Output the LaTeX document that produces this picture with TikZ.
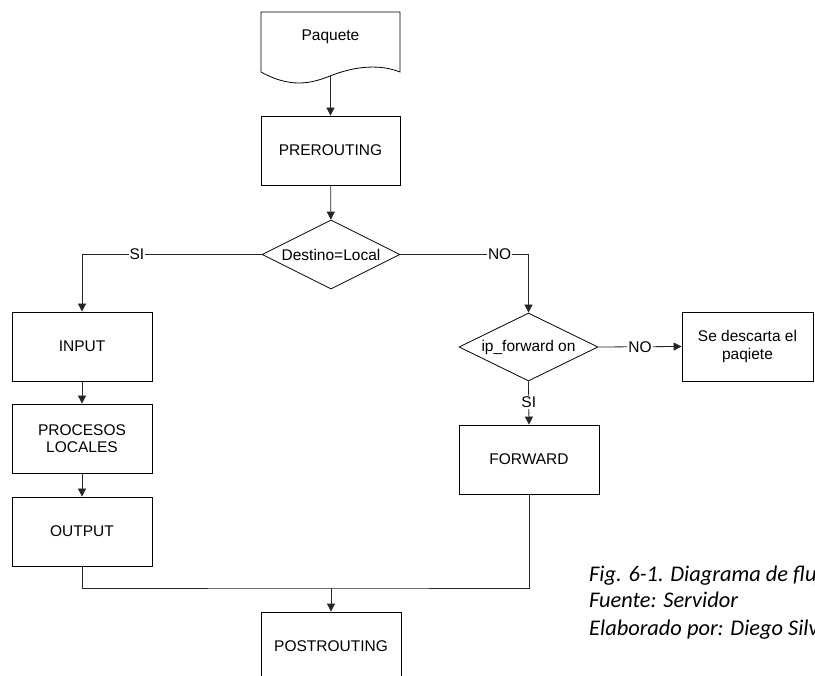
\documentclass[tikz,border=0pt]{standalone}
\usepackage{fontspec}
\setmainfont{Liberation Sans}
\newfontfamily\capfont{Carlito}
\usetikzlibrary{shapes.geometric,arrows.meta}
\tikzset{
  txt/.style={font=\fontsize{15.5}{17.5}\selectfont},
  box/.style={txt, draw=black, line width=0.8pt, minimum width=139pt, minimum height=69pt, inner sep=0pt, align=center},
  dia/.style={txt, draw=black, line width=0.8pt, diamond, aspect=2, minimum width=138pt, minimum height=69pt, inner sep=0pt, align=center},
  con/.style={line width=0.8pt, draw=black!85},
  arr/.style={con, -{Triangle[length=8pt,width=8pt]}},
  lbl/.style={txt, fill=white, inner sep=1pt},
  captext/.style={anchor=base west, inner sep=0pt, font=\capfont\itshape\fontsize{22.4}{26}\selectfont}
}
\begin{document}
\begin{tikzpicture}[x=1pt,y=-1pt]
\useasboundingbox (0,0) rectangle (815,676);
\begin{scope}
\clip (0,0) rectangle (815,676);
% Paquete document shape
\draw[line width=0.8pt] (261,72) -- (261,12) -- (400,12) -- (400,72)
  .. controls (380,64) and (355,66) .. (330,76)
  .. controls (310,84) and (290,88) .. (261,72);
\node[txt] (paq) at (330.5,37) {Paquete};
\coordinate (paqb) at (330.5,76);

\node[box] (pre) at (330.5,150.5) {PREROUTING};
\node[dia] (dest) at (331,254.5) {Destino=Local};
\node[box, minimum width=140pt] (inp) at (82,346.5) {INPUT};
\node[box, minimum width=140pt] (proc) at (82,438.5) {PROCESOS\\LOCALES};
\node[box, minimum width=140pt] (outp) at (82,531.5) {OUTPUT};
\node[dia, minimum width=139pt, minimum height=68pt] (ipf) at (528.5,347) {ip\_forward on};
\node[box, minimum width=131pt] (desc) at (747.5,346.5) {Se descarta el\\paqiete};
\node[box, minimum width=140pt] (fwd) at (529,459.5) {FORWARD};
\node[box, minimum width=140pt] (post) at (331,646.5) {POSTROUTING};

\draw[arr] (paqb) -- (pre);
\draw[arr] (pre) -- (dest);
\draw[arr] (dest.west) -- node[lbl, pos=0.694] {SI} (inp.north |- dest.west) -- (inp.north);
\draw[arr] (dest.east) -- node[lbl, pos=0.775] {NO} (ipf.north |- dest.east) -- (ipf.north);
\draw[arr] (ipf.east) -- node[lbl, pos=0.5] {NO} (desc.west);
\draw[arr] (ipf.south) -- node[lbl, pos=0.48] {SI} (fwd.north);
\draw[arr] (inp) -- (proc);
\draw[arr] (proc) -- (outp);
\coordinate (m) at (331,588);
\draw[con] (outp.south) |- (m) -| (fwd.south);
\draw[arr] (m) -- (post.north);

\node[captext] (c1) at (589,581) {Fig. 6-1. Diagrama de flujo};
\node[captext] (c2) at (589,608) {Fuente: Servidor};
\node[captext] (c3) at (589,635) {Elaborado por: Diego Silva};
\end{scope}
\end{tikzpicture}
\end{document}
